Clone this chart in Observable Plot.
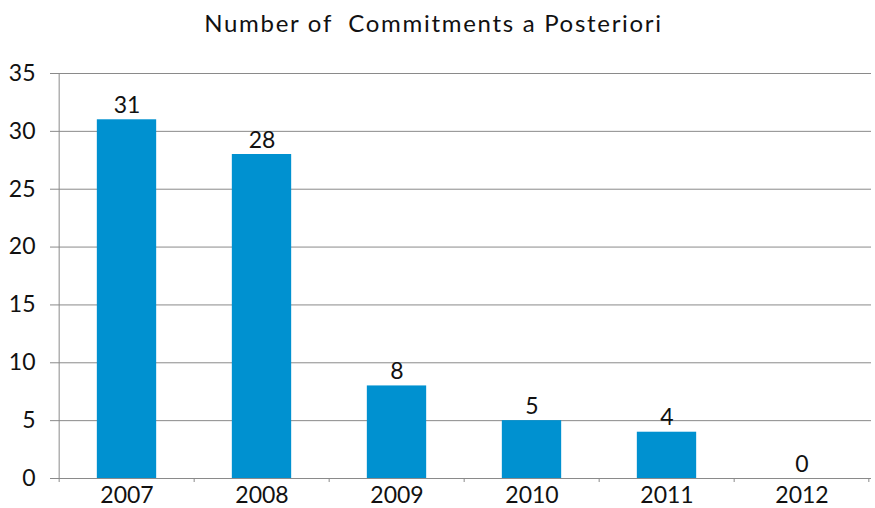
<!DOCTYPE html>
<html>
<head>
<meta charset="utf-8">
<script src="https://cdn.jsdelivr.net/npm/d3@7"></script>
<script src="https://cdn.jsdelivr.net/npm/@observablehq/plot@0.6"></script>
<style>
  body { margin: 0; background: #fff; }
  #title { height: 45px; line-height: 45px; text-align: center; font-family: Lato, "Noto Sans", sans-serif; font-size: 24px; letter-spacing: 1.7px; color: #111; padding-right: 8px; white-space: pre; }
  svg { display: block; }
</style>
</head>
<body>
<div id="title">Number of  Commitments a Posteriori</div>
<div id="chart"></div>
<script>
const years = ["2007", "2008", "2009", "2010", "2011", "2012"];
const counts = [31, 28, 8, 5, 4, 0];
const yTicks = [0, 5, 10, 15, 20, 25, 30, 35];

const data = years.map((y, i) => ({year: y, value: counts[i]}));

const W = 875, H = 463, mL = 57, mR = 4;
const band = (W - mL - mR) / years.length;
const gray = "#8a8a8a";

const chart = Plot.plot({
  width: W,
  height: H,
  marginTop: 28,
  marginBottom: 30,
  marginLeft: mL,
  marginRight: mR,
  style: {fontFamily: "Lato, 'Noto Sans', sans-serif", fontSize: "23px", color: "#111", background: "#fff"},
  x: {domain: years, padding: 0, label: null},
  y: {domain: [0, 35], ticks: yTicks, label: null},
  marks: [
    Plot.gridY(yTicks, {stroke: gray, strokeOpacity: 1, strokeWidth: 1}),
    Plot.axisY(yTicks, {tickSize: 7, tickPadding: 15, stroke: gray, strokeOpacity: 1, fontSize: 23, fill: "#111"}),
    Plot.barY(data, {x: "year", y: "value", fill: "#0091D0", insetLeft: (band - 60) / 2, insetRight: (band - 60) / 2}),
    Plot.ruleY([0], {stroke: gray, strokeWidth: 1}),
    Plot.ruleX([years[0]], {dx: -band / 2, stroke: gray, strokeWidth: 1}),
    Plot.axisX({tickSize: 4, text: null, dx: -band / 2, stroke: gray, strokeOpacity: 1}),
    Plot.axisX([years[years.length - 1]], {tickSize: 4, text: null, dx: band / 2 - 1, stroke: gray, strokeOpacity: 1}),
    Plot.axisX({tickSize: 0, tickPadding: 8, fontSize: 23, fill: "#111"}),
    Plot.text(data, {x: "year", y: "value", text: d => String(d.value), lineAnchor: "bottom", dy: -7, fontSize: 23, fill: "#111"})
  ]
});
document.getElementById("chart").appendChild(chart);
</script>
</body>
</html>
